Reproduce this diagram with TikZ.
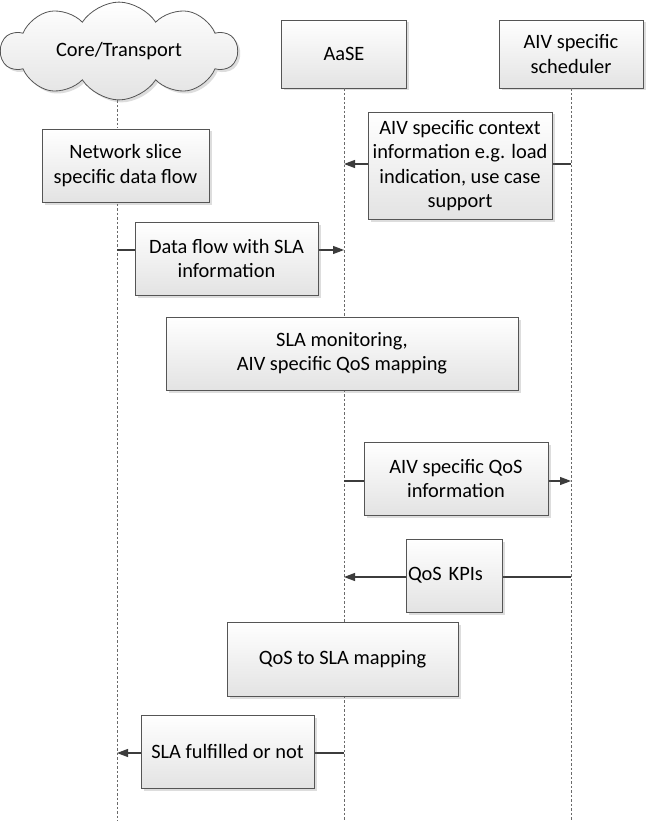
\documentclass[tikz,border=0pt]{standalone}
\usepackage{fontspec}
\setmainfont{Carlito}
\usetikzlibrary{shapes.symbols,shadows,arrows.meta}
\definecolor{bordc}{HTML}{555555}
\definecolor{linec}{HTML}{3C3C3C}
\definecolor{lifec}{HTML}{6A6A6A}
\begin{document}
\begin{tikzpicture}[x=1pt,y=-1pt,
  shade/.style={draw=bordc, line width=0.8pt, top color=white, bottom color=black!11,
    drop shadow={opacity=0.22, shadow xshift=2.5pt, shadow yshift=-2.5pt, fill=black!60}},
  box/.style={shade, align=center, inner sep=0pt, font=\fontsize{20.4}{24.2}\selectfont},
  lifeline/.style={draw=lifec, line width=0.65pt, dash pattern=on 2.5pt off 2pt},
  msg/.style={draw=linec, line width=1.1pt, -{Triangle[length=11pt,width=8pt]}},
]
\useasboundingbox (0,0) rectangle (645,821);
\fill[white] (0,0) rectangle (645,821);

% participants
\node[cloud, cloud puffs=10, cloud puff arc=115, aspect=2.5, shade,
      minimum width=236pt, minimum height=94pt, inner sep=0pt,
      font=\fontsize{20.4}{24.2}\selectfont] (core) at (119,51) {Core/Transport};
\node[box, minimum width=125pt, minimum height=68pt] (aase) at (344,54) {AaSE};
\node[box, minimum width=144pt, minimum height=68pt] (sched) at (571,54) {AIV specific\\scheduler};

% lifeline ends
\coordinate (b1) at (117,821);
\coordinate (b2) at (344,821);
\coordinate (b3) at (571,821);
\draw[lifeline] (core.south -| b1) -- (b1);
\draw[lifeline] (aase.south) -- (b2);
\draw[lifeline] (sched.south) -- (b3);

% message end points
\coordinate (m1s) at (571,164); \coordinate (m1e) at (344,164);
\coordinate (m2s) at (117,250); \coordinate (m2e) at (344,250);
\coordinate (m3s) at (344,481); \coordinate (m3e) at (571,481);
\coordinate (m4s) at (571,577); \coordinate (m4e) at (344,577);
\coordinate (m5s) at (344,753); \coordinate (m5e) at (117,753);
\draw[msg] (m1s) -- (m1e);
\draw[msg] (m2s) -- (m2e);
\draw[msg] (m3s) -- (m3e);
\draw[msg] (m4s) -- (m4e);
\draw[msg] (m5s) -- (m5e);

% boxes
\node[box, minimum width=167pt, minimum height=73pt] (slice) at (125.5,165.5) {Network slice\\specific data flow};
\node[box, minimum width=184pt, minimum height=107pt] (ctx) at (460,165.5) {AIV specific context\\information e.g. load\\indication, use case\\support};
\node[box, minimum width=183pt, minimum height=73pt] (flow) at (226.5,258.5) {Data flow with SLA\\information};
\node[box, minimum width=352pt, minimum height=73pt] (mon) at (342,353.5) {SLA monitoring,\\AIV specific QoS mapping};
\node[box, minimum width=184pt, minimum height=73pt] (qinfo) at (456,478.5) {AIV specific QoS\\information};
\node[box, minimum width=96pt, minimum height=73pt, text width=92pt, align=left, inner xsep=2pt] (kpi) at (454,575.5) {QoS KPIs};
\node[box, minimum width=231pt, minimum height=74pt] (map) at (342.5,659) {QoS to SLA mapping};
\node[box, minimum width=173pt, minimum height=73pt] (ful) at (227.5,751.5) {SLA fulfilled or not};
\end{tikzpicture}
\end{document}
